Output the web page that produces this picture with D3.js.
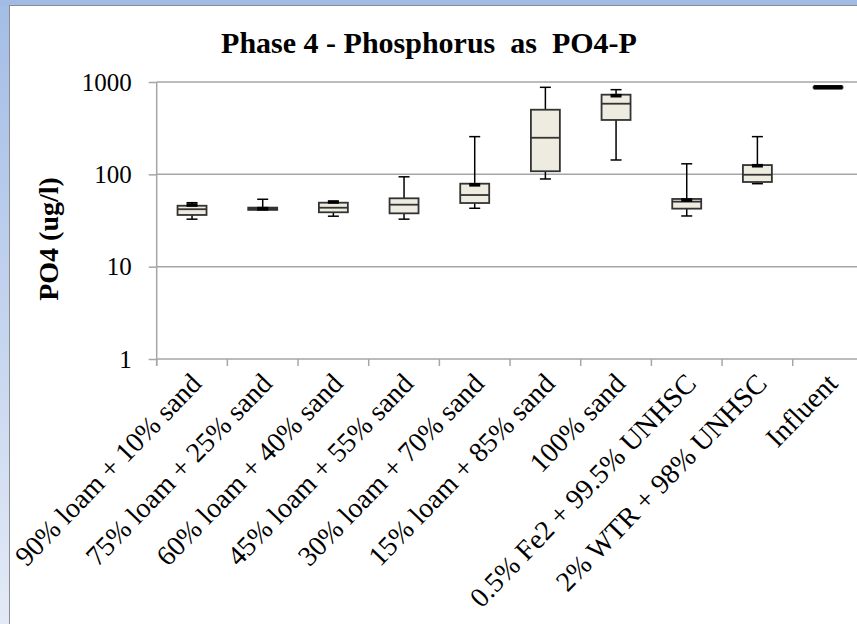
<!DOCTYPE html>
<html>
<head>
<meta charset="utf-8">
<script src="https://cdn.jsdelivr.net/npm/d3@7"></script>
<style>
  body { margin: 0; background: #fff; }
  svg { display: block; }
  text { font-family: "Liberation Serif", "Times New Roman", serif; fill: #000; }
</style>
</head>
<body>
<svg id="chart" width="857" height="624"></svg>
<script>
// Phase 4 box plot - PO4-P per media mix
const categories = [
  "90% loam + 10% sand", "75% loam + 25% sand", "60% loam + 40% sand",
  "45% loam + 55% sand", "30% loam + 70% sand", "15% loam + 85% sand",
  "100% sand", "0.5% Fe2 + 99.5% UNHSC", "2% WTR + 98% UNHSC", "Influent"
];
const whiskerMax = [49.3, 53.7, 50.5, 94, 256, 876, 826, 130, 256, 884];
const q3 =         [45.7, 43.6, 49.3, 55.0, 79.2, 501, 729, 54.1, 126, 880];
const median =     [41.9, 42.5, 43.5, 46.9, 59.7, 249, 582, 50.6, 99, 875];
const q1 =         [36.3, 41.2, 38.8, 37.8, 48.9, 108, 388, 42.5, 82.6, 868];
const whiskerMin = [32.7, 41.2, 35.2, 32.7, 42.9, 89.1, 143, 35.4, 79.2, 866];
const marker =     [46.5, 42.5, 50.2, null, 77, null, 711, 52.7, 124, 876];
const yTicks = [1, 10, 100, 1000];

const svg = d3.select("#chart");
const W = 857, H = 624;

// frame: blue strips on top and left
const defs = svg.append("defs");
const grad = defs.append("linearGradient").attr("id", "sideGrad")
  .attr("x1", 0).attr("y1", 0).attr("x2", 0).attr("y2", 1);
grad.append("stop").attr("offset", "0%").attr("stop-color", "#a3bde6");
grad.append("stop").attr("offset", "100%").attr("stop-color", "#e3eaf6");

svg.append("rect").attr("x", 0).attr("y", 0).attr("width", W).attr("height", H).attr("fill", "url(#sideGrad)");
svg.append("rect").attr("x", 0).attr("y", 0).attr("width", W).attr("height", 6).attr("fill", "#a0bbe4");
svg.append("rect").attr("x", 9.5).attr("y", 5.5).attr("width", W).attr("height", H)
  .attr("fill", "#fff").attr("stroke", "#8c8c8c").attr("stroke-width", 1);

const plotTop = 82, plotBottom = 359, plotLeft = 156.7, plotRight = 863.4;

const y = d3.scaleLog().domain([1, 1000]).range([plotBottom, plotTop]);
const x = d3.scaleBand().domain(categories).range([plotLeft, plotRight]);

// gridlines
svg.append("g").selectAll("line").data(yTicks).join("line")
  .attr("x1", plotLeft).attr("x2", W)
  .attr("y1", d => y(d)).attr("y2", d => y(d))
  .attr("stroke", "#a6a6a6").attr("stroke-width", 1.5);

// y axis
const yAxis = svg.append("g").attr("transform", `translate(${plotLeft},0)`)
  .call(d3.axisLeft(y).tickValues(yTicks).tickFormat(d3.format("d")).tickSize(8).tickPadding(17));
yAxis.select(".domain").attr("stroke", "#a6a6a6").attr("stroke-width", 1.5)
  .attr("d", `M0,${plotTop}V${plotBottom + 7}`);
yAxis.selectAll(".tick line").attr("stroke", "#a6a6a6").attr("stroke-width", 1.5);
yAxis.selectAll(".tick text").attr("font-size", 25).attr("font-family", "Liberation Serif");

// x ticks at band edges
const edges = categories.map(c => x(c)).concat([x(categories[categories.length - 1]) + x.bandwidth()]);
svg.append("g").selectAll("line").data(edges).join("line")
  .attr("x1", d => d).attr("x2", d => d)
  .attr("y1", plotBottom).attr("y2", plotBottom + 7)
  .attr("stroke", "#a6a6a6").attr("stroke-width", 1.5);

// x labels
svg.append("g").selectAll("text").data(categories).join("text")
  .attr("transform", d => `translate(${x(d) + x.bandwidth() / 2 + 11},${plotBottom + 26}) rotate(-46)`)
  .attr("text-anchor", "end")
  .attr("font-size", 28)
  .text(d => d);

// boxes
const boxW = x.bandwidth() * 0.41;
const capW = 11;
const g = svg.append("g");
categories.forEach((c, i) => {
  const cx = x(c) + x.bandwidth() / 2;
  // whiskers
  g.append("line").attr("x1", cx).attr("x2", cx)
    .attr("y1", y(whiskerMax[i])).attr("y2", y(q3[i]))
    .attr("stroke", "#000").attr("stroke-width", 1.5);
  g.append("line").attr("x1", cx).attr("x2", cx)
    .attr("y1", y(q1[i])).attr("y2", y(whiskerMin[i]))
    .attr("stroke", "#000").attr("stroke-width", 1.5);
  [whiskerMax[i], whiskerMin[i]].forEach(v => {
    g.append("line").attr("x1", cx - capW / 2).attr("x2", cx + capW / 2)
      .attr("y1", y(v)).attr("y2", y(v))
      .attr("stroke", "#000").attr("stroke-width", 1.5);
  });
  // box
  g.append("rect").attr("x", cx - boxW / 2).attr("width", boxW)
    .attr("y", y(q3[i])).attr("height", y(q1[i]) - y(q3[i]))
    .attr("fill", "#eeece1").attr("stroke", "#333").attr("stroke-width", 1.8);
  g.append("line").attr("x1", cx - boxW / 2).attr("x2", cx + boxW / 2)
    .attr("y1", y(median[i])).attr("y2", y(median[i]))
    .attr("stroke", "#333").attr("stroke-width", 1.8);
  // marker
  if (marker[i] != null) {
    const last = i === categories.length - 1;
    const mw = last ? boxW : capW;
    const mh = last ? 4.5 : 3.6;
    g.append("rect").attr("x", cx - mw / 2).attr("width", mw)
      .attr("y", y(marker[i]) - mh / 2).attr("height", mh).attr("fill", "#000");
  }
});

// title
svg.append("text").attr("x", 429).attr("y", 53)
  .attr("text-anchor", "middle").attr("font-size", 30).attr("font-weight", "bold")
  .style("white-space", "pre")
  .text("Phase 4 - Phosphorus  as  PO4-P");

// y axis title
svg.append("text")
  .attr("transform", `translate(58,239) rotate(-90)`)
  .attr("text-anchor", "middle").attr("font-size", 28).attr("font-weight", "bold")
  .text("PO4 (ug/l)");
</script>
</body>
</html>
